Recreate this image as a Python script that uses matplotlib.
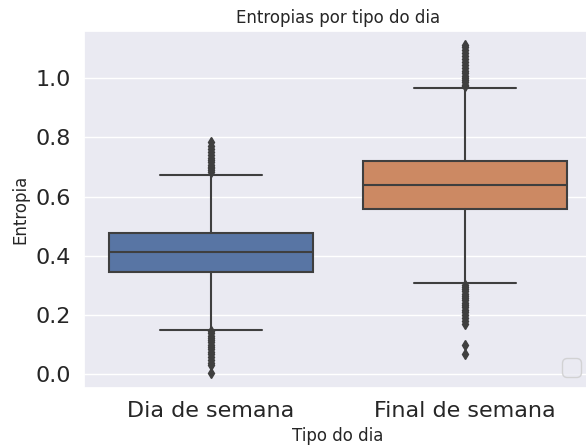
import matplotlib
matplotlib.use("Agg")
import matplotlib.pyplot as plt
import seaborn as sns

sns.set_theme(style="darkgrid")

categorias = ["Dia de semana", "Final de semana"]
cores = ["#5875a4", "#cc8963"]

# quartis, medianas e limites dos bigodes por tipo do dia
q1 = [0.345, 0.558]
mediana = [0.413, 0.639]
q3 = [0.477, 0.720]
bigode_inf = [0.150, 0.308]
bigode_sup = [0.673, 0.966]

# outliers de cada grupo
outliers_semana = [0.683, 0.690, 0.695, 0.700, 0.708, 0.715, 0.722, 0.730,
                   0.740, 0.750, 0.760, 0.772, 0.784,
                   0.145, 0.138, 0.130, 0.122, 0.115, 0.108, 0.100, 0.092,
                   0.085, 0.076, 0.068, 0.060, 0.050, 0.040, 0.030, 0.004]
outliers_fds = [0.972, 0.978, 0.985, 0.992, 1.000, 1.008, 1.016, 1.025,
                1.035, 1.045, 1.055, 1.065, 1.075, 1.085, 1.095, 1.103, 1.111,
                0.302, 0.295, 0.288, 0.280, 0.272, 0.265, 0.258, 0.250,
                0.242, 0.234, 0.226, 0.218, 0.210, 0.200, 0.190, 0.180,
                0.170, 0.099, 0.068]
outliers = [outliers_semana, outliers_fds]

stats = []
for i, nome in enumerate(categorias):
    stats.append({"label": nome, "q1": q1[i], "med": mediana[i], "q3": q3[i],
                  "whislo": bigode_inf[i], "whishi": bigode_sup[i],
                  "fliers": outliers[i]})

fig = plt.figure(figsize=(5.86, 4.48), dpi=100)
ax = fig.add_axes([0.1433, 0.1339, 1.0102 - 0.1433, 0.9308 - 0.1339])

cinza = "#3f3f3f"
bp = ax.bxp(stats, positions=[0, 1], widths=0.8, patch_artist=True,
            boxprops=dict(edgecolor=cinza, linewidth=1.5),
            medianprops=dict(color=cinza, linewidth=1.5),
            whiskerprops=dict(color=cinza, linewidth=1.5),
            capprops=dict(color=cinza, linewidth=1.5),
            flierprops=dict(marker="d", markersize=5, markerfacecolor=cinza,
                            markeredgecolor=cinza, linestyle="none"))
for caixa, cor in zip(bp["boxes"], cores):
    caixa.set_facecolor(cor)

ax.set_xlim(-0.5, 1.5)
ax.set_ylim(-0.046, 1.1586)
ax.set_xticks([0, 1])
ax.set_xticklabels(categorias)
ax.xaxis.grid(False)
ax.tick_params(axis="both", labelsize=16)
ax.set_title("Entropias por tipo do dia", fontsize=12)
ax.set_xlabel("Tipo do dia", fontsize=12)
ax.set_ylabel("Entropia", fontsize=12)
ax.legend(loc="lower right", fontsize=16.5)

fig.savefig("out.png", dpi=100)
